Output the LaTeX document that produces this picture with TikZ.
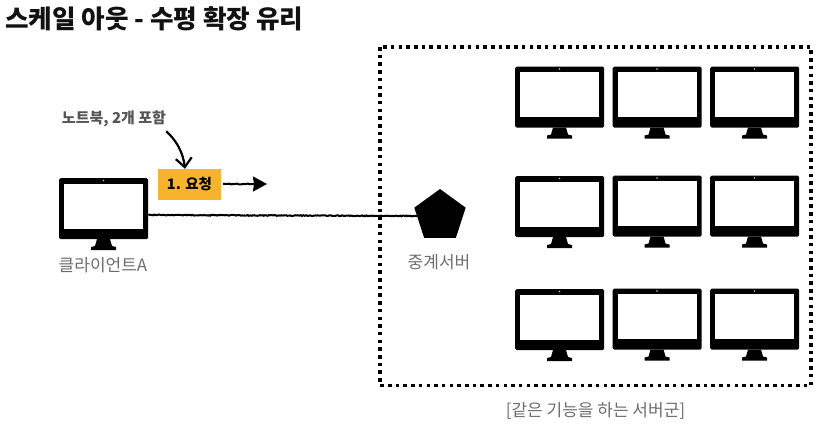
\documentclass[tikz,border=0pt]{standalone}
\usepackage{xcolor}
\usepackage{fontspec}
\setmainfont{Noto Sans CJK KR}
\usetikzlibrary{shapes.geometric,arrows.meta,decorations.pathmorphing,positioning,calc}
\definecolor{accent}{RGB}{247, 179, 43}
\definecolor{textmuted}{RGB}{110, 110, 110}
\definecolor{notegray}{RGB}{85, 85, 85}
\definecolor{titleink}{RGB}{17, 17, 17}
\tikzset{
    monitorbody/.style={fill=black, rounded corners=1.5pt, inner sep=0pt, minimum width=89pt, minimum height=61pt, anchor=north west},
    pics/monitor/.style={code={
        \node[monitorbody] (-body) at (0,0) {};
        \fill[white] (5,5.5) rectangle (84,50.5);
        \fill[white!75!black] (44.5,2.5) circle (0.8pt);
        \fill[black] (38,61) -- (51,61) -- (53,68) -- (57,69) -- (57,72) -- (32,72) -- (32,69) -- (36,68) -- cycle;
    }},
    rough/.style={black, line width=2pt, decorate, decoration={random steps, segment length=1.2pt, amplitude=0.4pt, post=lineto, post length=3pt}},
    label/.style={text=textmuted, font=\fontsize{17}{20}\selectfont},
}

\begin{document}
\begin{tikzpicture}[x=1pt, y=-1pt]
    \useasboundingbox (0,0) rectangle (819,426);
    \node[anchor=west, inner sep=0pt, text=titleink, font=\fontsize{25.6}{30}\selectfont\bfseries] (title) at (5,19) {스케일 아웃 - 수평 확장 유리};

    % server group
    \draw[black, line width=3.5pt, dash pattern=on 3.5pt off 4.2pt] (380,47) rectangle (811,385.5);
    \pic (servera) at (515,66.5) {monitor};
    \pic (serverb) at (612.5,66.5) {monitor};
    \pic (serverc) at (710,66.5) {monitor};
    \pic (serverd) at (515,176) {monitor};
    \pic (servere) at (612.5,175.5) {monitor};
    \pic (serverf) at (710,175.5) {monitor};
    \pic (serverg) at (515,289) {monitor};
    \pic (serverh) at (612.5,288.5) {monitor};
    \pic (serveri) at (710,288.5) {monitor};
    \node[label] (grouplabel) at (595.5,411) {[같은 기능을 하는 서버군]};

    % client and relay
    \pic (client) at (59,178) {monitor};
    \node[label] (clientlabel) at (103,265) {클라이언트A};
    \node[regular polygon, regular polygon sides=5, fill=black, inner sep=0pt, minimum size=54pt] (relay) at (440,216) {};
    \node[label] (relaylabel) at (439,262) {중계서버};
    \draw[rough] (client-body.east |- 0,215) -- (relay.west |- 0,216);

    % request
    \node[fill=accent, inner sep=0pt, minimum width=63pt, minimum height=31pt, font=\fontsize{14.5}{17}\selectfont\bfseries] (request) at (189.5,184.5) {1. 요청};
    \node[text=notegray, inner sep=0pt, font=\fontsize{15}{18}\selectfont\bfseries] (note) at (114,119) {노트북, 2개 포함};
    \coordinate (requestmid) at (254,184);
    \coordinate (requestend) at (267,184);
    \draw[rough] (223,184) -- (requestmid);
    \draw[black, line width=2pt, -{Stealth[length=14pt, width=15pt, inset=1pt]}] (requestmid) -- (requestend);
    \draw[black, line width=2.2pt, -{Straight Barb[length=9pt, width=16pt]}] (note.south east) ++(0,4) .. controls (176,140) and (183,152) .. (request.north -| 185,0);
\end{tikzpicture}
\end{document}
